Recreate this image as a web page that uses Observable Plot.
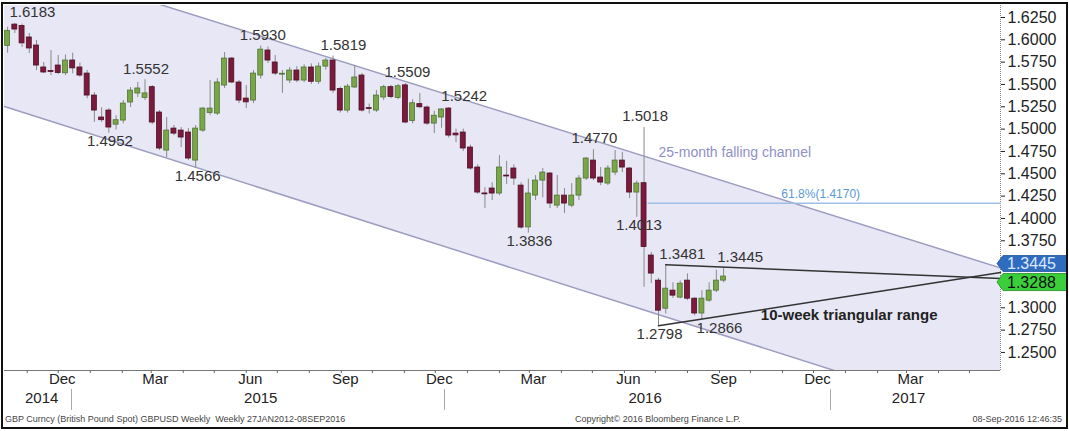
<!DOCTYPE html>
<html><head><meta charset="utf-8">
<script src="https://cdn.jsdelivr.net/npm/d3@7"></script>
<script src="https://cdn.jsdelivr.net/npm/@observablehq/plot@0.6"></script>
<style>
body{margin:0;background:#fff;}
#wrap{position:relative;width:1069px;height:431px;overflow:hidden;background:#fff;font-family:"Liberation Sans",Arial,sans-serif;}
#chart{position:absolute;left:0;top:0;}
#border{position:absolute;left:1px;top:2px;width:1063px;height:423px;border:2px solid #111;pointer-events:none;}
.foot{position:absolute;top:414px;font-size:9px;line-height:10px;color:#444;white-space:nowrap;}
</style></head><body>
<div id="wrap">
<div id="chart"></div>
<div class="foot" style="left:5px">GBP Curncy (British Pound Spot) GBPUSD Weekly&nbsp;&nbsp;Weekly 27JAN2012-08SEP2016</div>
<div class="foot" style="left:575px">Copyright© 2016 Bloomberg Finance L.P.</div>
<div class="foot" style="right:7px">08-Sep-2016 12:46:35</div>
<div id="border"></div>
</div>
<script>
// ---------- data ----------
const firstWeek = "2014-10-13";
const lastWeek = "2016-09-05";
const opens = [1.5930,1.6170,1.6155,1.6026,1.5936,1.5690,1.5650,1.5712,1.5625,1.5768,
1.5690,1.5622,1.5376,1.5130,1.5208,1.5050,1.5096,1.5298,1.5399,1.5350,
1.5470,1.5186,1.4760,1.5006,1.4984,1.4962,1.4648,1.4984,1.5180,1.5174,
1.5488,1.5790,1.5522,1.5342,1.5320,1.5600,1.5880,1.5746,1.5610,1.5544,
1.5656,1.5544,1.5690,1.5530,1.5700,1.5768,1.5450,1.5208,1.5466,1.5600,
1.5235,1.5208,1.5354,1.5470,1.5350,1.5490,1.5090,1.5280,1.5242,1.5062,
1.5130,1.5230,1.4950,1.4962,1.4794,1.4570,1.4280,1.4335,1.4279,1.4480,
1.4559,1.4368,1.3900,1.4256,1.4424,1.4503,1.4144,1.4256,1.4144,1.4256,
1.4447,1.4648,1.4458,1.4391,1.4514,1.4648,1.4559,1.4290,1.4395,1.3585,
1.3304,1.2990,1.3192,1.3114,1.3304,1.3102,1.2936,1.3080,1.3192,1.3304];
const highs = [1.6140,1.6183,1.6175,1.6071,1.5992,1.5746,1.5880,1.5824,1.5830,1.5850,
1.5740,1.5656,1.5410,1.5240,1.5230,1.5150,1.5320,1.5466,1.5522,1.5552,
1.5488,1.5208,1.5130,1.5040,1.5018,1.5006,1.5040,1.5242,1.5544,1.5566,
1.5858,1.5802,1.5544,1.5488,1.5656,1.5930,1.5920,1.5824,1.5656,1.5690,
1.5700,1.5720,1.5730,1.5740,1.5790,1.5819,1.5470,1.5500,1.5712,1.5622,
1.5280,1.5432,1.5490,1.5490,1.5500,1.5509,1.5330,1.5400,1.5260,1.5200,
1.5230,1.5242,1.5000,1.5000,1.4820,1.4600,1.4346,1.4400,1.4704,1.4640,
1.4600,1.4400,1.4440,1.4480,1.4559,1.4514,1.4480,1.4335,1.4390,1.4480,
1.4682,1.4770,1.4570,1.4592,1.4760,1.4740,1.4570,1.4420,1.5018,1.3620,
1.3330,1.3481,1.3280,1.3300,1.3380,1.3114,1.3192,1.3280,1.3420,1.3445];
const lows = [1.5850,1.6070,1.5915,1.5846,1.5656,1.5622,1.5600,1.5610,1.5600,1.5620,
1.5580,1.5340,1.5075,1.5075,1.4952,1.4990,1.5060,1.5242,1.5354,1.5320,
1.5050,1.4760,1.4682,1.4928,1.4794,1.4648,1.4566,1.4962,1.5150,1.5152,
1.5455,1.5510,1.5286,1.5230,1.5286,1.5560,1.5735,1.5600,1.5400,1.5510,
1.5520,1.5520,1.5500,1.5500,1.5660,1.5400,1.5180,1.5180,1.5455,1.5190,
1.5170,1.5186,1.5320,1.5340,1.5330,1.5060,1.5060,1.5230,1.5040,1.4950,
1.5010,1.4900,1.4850,1.4750,1.4540,1.4270,1.4110,1.4200,1.4256,1.4380,
1.4370,1.3880,1.3836,1.4200,1.4230,1.4110,1.4110,1.4055,1.4120,1.4200,
1.4424,1.4424,1.4368,1.4368,1.4480,1.4514,1.4223,1.4013,1.3229,1.3272,
1.2798,1.2930,1.3105,1.3100,1.3080,1.2910,1.2866,1.3060,1.3170,1.3280];
const closes = [1.6100,1.6115,1.5960,1.5903,1.5712,1.5634,1.5640,1.5628,1.5768,1.5680,
1.5600,1.5376,1.5208,1.5100,1.5018,1.5100,1.5286,1.5432,1.5455,1.5400,
1.5074,1.4783,1.4984,1.4950,1.4906,1.4671,1.5006,1.5230,1.5230,1.5522,
1.5790,1.5522,1.5320,1.5300,1.5622,1.5890,1.5768,1.5622,1.5620,1.5656,
1.5544,1.5690,1.5530,1.5700,1.5768,1.5432,1.5208,1.5476,1.5578,1.5208,
1.5225,1.5376,1.5470,1.5360,1.5480,1.5074,1.5290,1.5245,1.5062,1.5150,
1.5220,1.4928,1.4930,1.4783,1.4559,1.4290,1.4270,1.4279,1.4570,1.4470,
1.4447,1.3898,1.4279,1.4424,1.4514,1.4167,1.4256,1.4167,1.4256,1.4447,
1.4671,1.4447,1.4402,1.4559,1.4648,1.4570,1.4290,1.4391,1.3680,1.3383,
1.2968,1.3214,1.3136,1.3270,1.3102,1.2936,1.3102,1.3192,1.3304,1.3350];

// price annotations
const highLabelDates = ["2014-11-06","2015-02-24","2015-06-17","2015-09-03","2015-11-04","2015-12-29","2016-06-21","2016-05-03","2016-07-27","2016-09-21"];
const highLabelValues = [1.6183,1.5552,1.5930,1.5819,1.5509,1.5242,1.5018,1.4770,1.3481,1.3445];
const lowLabelDates = ["2015-01-20","2015-04-15","2016-03-01","2016-06-15","2016-07-05","2016-09-01"];
const lowLabelValues = [1.4952,1.4566,1.3836,1.4013,1.2798,1.2866];

// chart frame
const xDomain = ["2014-10-10","2017-05-31"];
const yDomain = [1.2298, 1.6384];
const yTicks = [1.625,1.6,1.575,1.55,1.525,1.5,1.475,1.45,1.425,1.4,1.375,1.3,1.275,1.25];
const monthLabelDates = ["2014-12-01","2015-03-01","2015-06-01","2015-09-01","2015-12-01","2016-03-01","2016-06-01","2016-09-01","2016-12-01","2017-03-01"];
const yearLabels = ["2014","2015","2016","2017"];
const yearLabelDates = ["2014-11-15","2015-06-15","2016-06-21","2017-03-03"];
const yearSeparatorDates = ["2014-12-14","2015-12-10","2016-12-17"];

// falling channel (values at the two ends of the time axis)
const channelDates = ["2014-10-10","2017-05-31"];
const channelUpper = [1.6941, 1.3446];
const channelLower = [1.5253, 1.1706];
const channelLabel = "25-month falling channel";
const channelLabelDate = "2016-07-04", channelLabelValue = 1.4738;

// fibonacci retracement
const fibLevel = 1.4170;
const fibDates = ["2016-06-24","2017-05-31"];
const fibLabel = "61.8%(1.4170)";
const fibLabelDate = "2016-12-08";

// triangle
const triUpperDates = ["2016-07-11","2017-05-31"], triUpperValues = [1.3481, 1.3328];
const triLowerDates = ["2016-07-04","2017-05-31"], triLowerValues = [1.2798, 1.3395];
const triLabel = "10-week triangular range";
const triLabelDate = "2016-10-11", triLabelValue = 1.2914;

// right-axis price tags
const tagValues = [1.3445, 1.3288];

// ---------- build ----------
const D = s => new Date(s);
const weeks = d3.utcMonday.range(D(firstWeek), d3.utcDay.offset(D(lastWeek), 1));
const candles = weeks.map((d, i) => ({date: d, open: opens[i], high: highs[i], low: lows[i], close: closes[i]}));
const channel = channelDates.map((d, i) => ({date: D(d), upper: channelUpper[i], lower: channelLower[i]}));
const fib = fibDates.map(d => ({date: D(d), v: fibLevel}));
const triU = triUpperDates.map((d, i) => ({date: D(d), v: triUpperValues[i]}));
const triL = triLowerDates.map((d, i) => ({date: D(d), v: triLowerValues[i]}));
const highAnn = highLabelDates.map((d, i) => ({date: D(d), v: highLabelValues[i]}));
const lowAnn = lowLabelDates.map((d, i) => ({date: D(d), v: lowLabelValues[i]}));
const halfBody = 2.4 * 864e5;
const up = d => d.close >= d.open;

const plot = Plot.plot({
  width: 1069, height: 431,
  marginLeft: 4, marginRight: 69, marginTop: 5, marginBottom: 61,
  x: {type: "utc", domain: xDomain.map(D)},
  y: {domain: yDomain},
  style: {fontFamily: "'Liberation Sans', Arial, sans-serif", fontSize: "15px", color: "#222", background: "transparent", overflow: "visible"},
  marks: [
    Plot.areaY(channel, {x: "date", y1: "lower", y2: "upper", fill: "#e7e7f5", clip: true}),
    Plot.line(channel, {x: "date", y: "upper", stroke: "#9d9dc0", strokeWidth: 1.5, clip: true}),
    Plot.line(channel, {x: "date", y: "lower", stroke: "#9d9dc0", strokeWidth: 1.5, clip: true}),
    Plot.ruleY([yDomain[0]], {stroke: "#777", strokeWidth: 1}),
    Plot.ruleX([D(xDomain[1])], {stroke: "#888", strokeDasharray: "1,1"}),
    Plot.line(fib, {x: "date", y: "v", stroke: "#9fc0e6", strokeWidth: 1.5}),
    Plot.text([fibLabel], {x: D(fibLabelDate), y: fibLevel, text: d => d, dy: -9, fill: "#5b9ad6", fontSize: 12}),
    Plot.text([channelLabel], {x: D(channelLabelDate), y: channelLabelValue, text: d => d, textAnchor: "start", fill: "#9090c6", fontSize: 14}),
    Plot.ruleX(candles, {x: "date", y1: "low", y2: "high", stroke: "#8a8a8a", strokeWidth: 1}),
    Plot.rect(candles, {
      x1: d => new Date(+d.date - halfBody), x2: d => new Date(+d.date + halfBody),
      y1: "open", y2: "close",
      fill: d => up(d) ? "#7aa64a" : "#7b1a3d",
      stroke: d => up(d) ? "#4f7430" : "#4e0f25", strokeWidth: 0.8
    }),
    Plot.line(triU, {x: "date", y: "v", stroke: "#333", strokeWidth: 1.5}),
    Plot.line(triL, {x: "date", y: "v", stroke: "#333", strokeWidth: 1.5}),
    Plot.text([triLabel], {x: D(triLabelDate), y: triLabelValue, text: d => d, textAnchor: "start", fontWeight: "bold", fontSize: 15, fill: "#222"}),
    Plot.text(highAnn, {x: "date", y: "v", text: d => d.v.toFixed(4), dy: -11, fill: "#333", fontSize: 15}),
    Plot.text(lowAnn, {x: "date", y: "v", text: d => d.v.toFixed(4), dy: 8, fill: "#333", fontSize: 15}),
    Plot.axisY({anchor: "right", ticks: yTicks, tickFormat: d => d.toFixed(4), tickSize: 4, tickPadding: 3, fontSize: 16, color: "#222", label: null}),
    Plot.axisX({ticks: d3.utcMonth.range(D("2014-11-01"), D("2017-06-01")), tickSize: 3, tickFormat: () => "", color: "#666", label: null}),
    Plot.axisX({ticks: monthLabelDates.map(D), tickFormat: d3.utcFormat("%b"), tickSize: 0, tickPadding: 3, dx: 4, fontSize: 15, color: "#222", label: null}),
    Plot.text(yearLabelDates.map(D), {x: d => d, text: (d, i) => yearLabels[i], frameAnchor: "bottom", dy: 32, fontSize: 15, fill: "#222"})
  ]
});
document.getElementById("chart").appendChild(plot);

// year separators and price tags, positioned with the plot's own scales
const svg = d3.select(plot);
const xs = plot.scale("x"), ys = plot.scale("y");
yearSeparatorDates.forEach(s => {
  const x = Math.round(xs.apply(D(s))) + 0.5;
  svg.append("line").attr("x1", x).attr("x2", x).attr("y1", 389).attr("y2", 410).attr("stroke", "#aaa");
});
// tag geometry: [offset above value, offset below value] in px
const tagStyles = [
  {bg: "#2f6cc0", fg: "#dde8ff", stroke: "#1f4f9a", top: 12, bottom: 4, textDy: -4},
  {bg: "#3ccf3c", fg: "#111", stroke: "#1d8a1d", top: 8, bottom: 9, textDy: 0.5}
];
const tagG = svg.append("g").attr("text-anchor", "start");
tagValues.forEach((v, i) => {
  const s = tagStyles[i];
  const y = ys.apply(v), x0 = 997, x1 = 1067;
  tagG.append("path")
    .attr("d", `M${x0},${y + (s.bottom - s.top) / 2}L${x0 + 6},${y - s.top}L${x1},${y - s.top}L${x1},${y + s.bottom}L${x0 + 6},${y + s.bottom}Z`)
    .attr("fill", s.bg).attr("stroke", s.stroke).attr("stroke-width", 0.8);
  tagG.append("text").attr("x", 1007).attr("y", y + s.textDy).attr("dy", "0.35em")
    .attr("fill", s.fg).attr("font-size", 16).text(v.toFixed(4));
});
</script>
</body></html>
